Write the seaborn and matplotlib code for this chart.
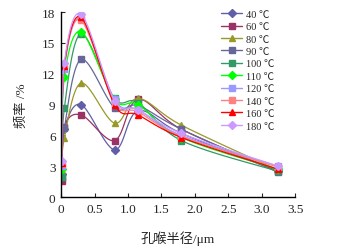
import numpy as np
import pandas as pd
import matplotlib
matplotlib.use('Agg')
import matplotlib.pyplot as plt
from matplotlib.lines import Line2D
import seaborn as sns

sns.set_style('ticks')
plt.rcParams['font.family'] = ['Liberation Serif', 'Noto Sans CJK SC']

# 孔喉半径 (μm)
radius = [0.01, 0.05, 0.3, 0.8, 1.15, 1.8, 3.25]

labels = ['40 ℃', '60 ℃', '80 ℃', '90 ℃', '100 ℃', '110 ℃', '120 ℃', '140 ℃', '160 ℃', '180 ℃']

# 频率 (%)
f40 = [2.2, 6.6, 9.0, 4.6, 8.4, 6.2, 2.5]
f60 = [1.6, 6.8, 8.0, 5.5, 9.5, 6.6, 2.5]
f80 = [2.5, 5.8, 11.1, 7.2, 9.6, 7.0, 2.6]
f90 = [2.0, 6.7, 13.4, 8.7, 8.9, 6.6, 2.4]
f100 = [2.0, 8.7, 15.9, 9.6, 9.2, 5.5, 2.5]
f110 = [2.7, 11.7, 16.1, 9.5, 9.0, 5.8, 2.7]
f120 = [3.0, 12.5, 17.4, 9.5, 8.5, 6.0, 3.0]
f140 = [3.2, 12.9, 17.2, 9.2, 8.3, 5.9, 2.9]
f160 = [3.3, 12.8, 17.5, 9.0, 8.0, 5.8, 2.7]
f180 = [3.5, 13.1, 17.8, 9.4, 8.5, 6.2, 3.0]

series = [f40, f60, f80, f90, f100, f110, f120, f140, f160, f180]
colors = ['#5f5fa8', '#993366', '#99992a', '#666699', '#339966',
          '#00ff00', '#9999ff', '#ff8080', '#ff0000', '#cc99ff']
markers = ['D', 's', '^', 's', 's', 'D', 's', 's', '^', 'D']
msizes = [4, 5, 5, 5, 5, 4, 5, 5, 5, 4]


def smooth(x, y, n=20):
    # Catmull-Rom 平滑曲线 (类似 Excel 平滑线)
    sx = 18 / 3.5
    p = np.column_stack([np.array(x) * sx, np.array(y, dtype=float)])
    p = np.vstack([p[0], p, p[-1]])
    out = []
    for i in range(1, len(p) - 2):
        p0, p1, p2, p3 = p[i - 1], p[i], p[i + 1], p[i + 2]
        t = np.linspace(0, 1, n)[:, None]
        seg = 0.5 * ((2 * p1) + (-p0 + p2) * t + (2 * p0 - 5 * p1 + 4 * p2 - p3) * t ** 2
                     + (-p0 + 3 * p1 - 3 * p2 + p3) * t ** 3)
        out.append(seg)
    out = np.vstack(out)
    return out[:, 0] / sx, out[:, 1]


fig = plt.figure(figsize=(3.53, 2.53), dpi=100)
ax = fig.add_axes([0.173, 0.217, 0.663, 0.731])

for lab, vals, c, m, ms in zip(labels, series, colors, markers, msizes):
    xs, ys = smooth(radius, vals)
    df = pd.DataFrame({'x': xs, 'y': ys})
    sns.lineplot(data=df, x='x', y='y', color=c, lw=0.9, sort=False, estimator=None, ax=ax)
    ax.plot(radius, vals, ls='none', marker=m, color=c, ms=ms, mec=c)

ax.set_xlim(0, 3.5)
ax.set_ylim(0, 18)
ax.set_xticks(np.arange(0, 3.51, 0.5))
ax.set_xticklabels(['0', '0.5', '1.0', '1.5', '2.0', '2.5', '3.0', '3.5'])
ax.set_yticks(np.arange(0, 19, 3))
ax.tick_params(direction='in', length=3, width=0.8, labelsize=9.5, pad=4)
for s in ['top', 'right']:
    ax.spines[s].set_visible(False)
for s in ['left', 'bottom']:
    ax.spines[s].set_linewidth(1.0)
    ax.spines[s].set_color('black')

ax.set_xlabel('孔喉半径/μm', fontsize=9.5, labelpad=11)
ax.set_ylabel('频率 /%', fontsize=9.5, labelpad=10)

handles = [Line2D([0], [0], color=c, marker=m, ms=ms, lw=1.0)
           for c, m, ms in zip(colors, markers, msizes)]
fig.legend(handles, labels, loc='upper left', bbox_to_anchor=(0.615, 0.975),
           frameon=False, fontsize=7.5, handlelength=2.0, handletextpad=0.4,
           labelspacing=0.3, borderaxespad=0)

fig.savefig('out.png', dpi=100)
